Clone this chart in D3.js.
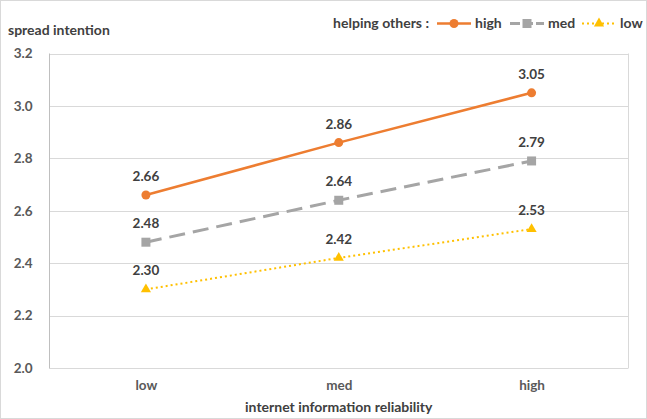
<!DOCTYPE html>
<html><head><meta charset="utf-8">
<script src="https://cdn.jsdelivr.net/npm/d3@7"></script>
<style>body{margin:0;background:#fff}svg{display:block}text{font-family:Lato,"Open Sans",sans-serif}</style>
</head><body><svg id="c" width="647" height="419"></svg>
<script>
const categories = ["low","med","high"];
const seriesNames = ["high","med","low"];
const highValues = [2.66, 2.86, 3.05];
const medValues = [2.48, 2.64, 2.79];
const lowValues = [2.30, 2.42, 2.53];
const yTicks = [2.0, 2.2, 2.4, 2.6, 2.8, 3.0, 3.2];

const series = [
  {name: seriesNames[0], values: highValues, color: "#ED7D31", dash: null, width: 2.5, marker: "circle"},
  {name: seriesNames[1], values: medValues, color: "#A5A5A5", dash: "16,8", width: 3, marker: "square"},
  {name: seriesNames[2], values: lowValues, color: "#FFC000", dash: "2,3", width: 2, marker: "triangle"}
];

const svg = d3.select("#c");
svg.append("rect").attr("x",0.5).attr("y",0.5).attr("width",646).attr("height",418)
  .attr("fill","#fff").attr("stroke","#d9d9d9");

const L = 49.5, R = 628, T = 53.5, B = 368;
const x = d3.scalePoint().domain(categories).range([L, R]).padding(0.5);
const y = d3.scaleLinear().domain([2.0, 3.2]).range([B, T]);

svg.append("g").selectAll("line").data(yTicks).join("line")
  .attr("x1", L).attr("x2", R).attr("y1", d => Math.round(y(d))+0.5).attr("y2", d => Math.round(y(d))+0.5)
  .attr("stroke", "#d9d9d9").attr("stroke-width", 1);
svg.append("line").attr("x1",L).attr("x2",L).attr("y1",T).attr("y2",B+0.5).attr("stroke","#bfbfbf");
svg.append("line").attr("x1",R+0.5).attr("x2",R+0.5).attr("y1",T).attr("y2",B+0.5).attr("stroke","#d9d9d9");

const yAxis = d3.axisLeft(y).tickValues(yTicks).tickFormat(d3.format(".1f")).tickSize(0).tickPadding(17);
const gy = svg.append("g").attr("transform", `translate(${L},0)`).call(yAxis);
gy.select(".domain").remove();
gy.selectAll("text").attr("fill","#595959").attr("font-size",13.5).attr("font-weight","bold");

const xAxis = d3.axisBottom(x).tickSize(0).tickPadding(12);
const gx = svg.append("g").attr("transform", `translate(0,${B})`).call(xAxis);
gx.select(".domain").remove();
gx.selectAll("text").attr("fill","#595959").attr("font-size",13.5).attr("font-weight","bold");

svg.append("text").attr("x",8).attr("y",35).attr("fill","#404040").attr("font-size",14).attr("font-weight","bold").text("spread intention");
svg.append("text").attr("x",x("med")).attr("y",412).attr("text-anchor","middle").attr("fill","#404040").attr("font-size",14).attr("font-weight","bold").text("internet information reliability");

const line = d3.line().x((d,i) => x(categories[i])).y(d => y(d));

function drawMarker(g, type, cx, cy, color) {
  if (type === "circle") g.append("circle").attr("cx",cx).attr("cy",cy).attr("r",4.5).attr("fill",color);
  else if (type === "square") g.append("rect").attr("x",cx-4.5).attr("y",cy-4.5).attr("width",9).attr("height",9).attr("fill",color);
  else g.append("path").attr("d", d3.symbol(d3.symbolTriangle, 45)()).attr("transform",`translate(${cx},${cy})`).attr("fill",color);
}

series.forEach(s => {
  const g = svg.append("g");
  g.append("path").attr("d", line(s.values)).attr("fill","none").attr("stroke", s.color)
    .attr("stroke-width", s.width).attr("stroke-dasharray", s.dash);
  s.values.forEach((v,i) => {
    const cx = x(categories[i]), cy = y(v);
    drawMarker(g, s.marker, cx, cy, s.color);
    g.append("text").attr("x",cx).attr("y",cy-14).attr("text-anchor","middle")
      .attr("fill","#404040").attr("font-size",13.5).attr("font-weight","bold").text(d3.format(".2f")(v));
  });
});

const lg = svg.append("g");
lg.append("text").attr("x",429).attr("y",28).attr("text-anchor","end").attr("fill","#404040").attr("font-size",14).attr("font-weight","bold").text("helping others :");
const legendPos = [{x1:437, tx:475},{x1:510, tx:548},{x1:582, tx:620}];
series.forEach((s,i) => {
  const p = legendPos[i];
  lg.append("line").attr("x1",p.x1).attr("x2",p.x1+34).attr("y1",23.5).attr("y2",23.5)
    .attr("stroke",s.color).attr("stroke-width",s.width).attr("stroke-dasharray", s.dash ? (i===1?"10,3":"2,3") : null);
  drawMarker(lg, s.marker, p.x1+17, 23.5, s.color);
  lg.append("text").attr("x",p.tx).attr("y",28).attr("fill","#404040").attr("font-size",14).attr("font-weight","bold").text(s.name);
});
</script></body></html>
